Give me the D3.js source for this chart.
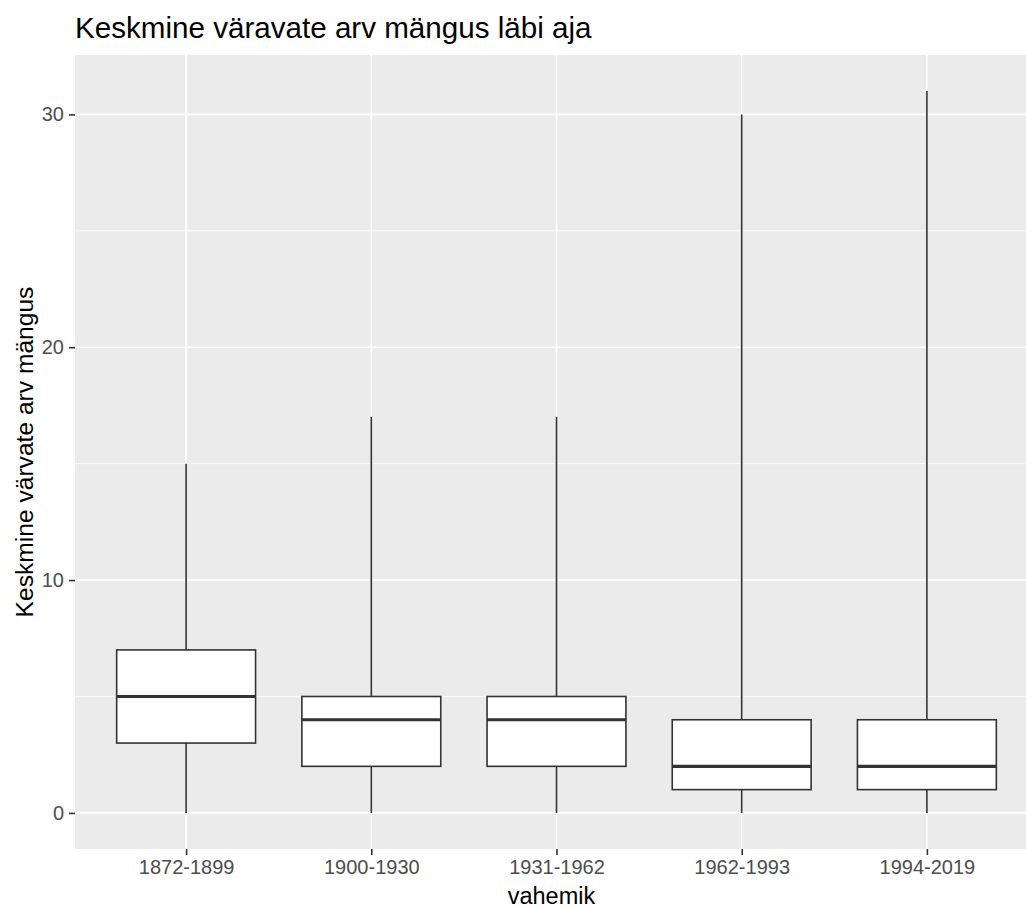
<!DOCTYPE html>
<html>
<head>
<meta charset="utf-8">
<script src="https://cdn.jsdelivr.net/npm/d3@7"></script>
<style>
  body { margin: 0; background: #fff; }
  text { font-family: "Liberation Sans", Arial, sans-serif; }
</style>
</head>
<body>
<svg id="chart" width="1026" height="908"></svg>
<script>
// data
let categories = ["1872-1899", "1900-1930", "1931-1962", "1962-1993", "1994-2019"];
let mins    = [0, 0, 0, 0, 0];
let q1s     = [3, 2, 2, 1, 1];
let medians = [5, 4, 4, 2, 2];
let q3s     = [7, 5, 5, 4, 4];
let maxs    = [15, 17, 17, 30, 31];
let yTicks  = [0, 10, 20, 30];
let yMinor  = [5, 15, 25];

let title  = "Keskmine väravate arv mängus läbi aja";
let xTitle = "vahemik";
let yTitle = "Keskmine värvate arv mängus";

function main() {
    var svg = d3.select("#chart");
    var panel = {left: 75, right: 1038, top: 55, bottom: 849};

    var x = d3.scalePoint()
        .domain(categories)
        .range([panel.left, panel.right])
        .padding(0.6);

    // ggplot-style 5% expansion
    var lo = d3.min(mins), hi = d3.max(maxs), pad = (hi - lo) * 0.05;
    var y = d3.scaleLinear()
        .domain([lo - pad, hi + pad])
        .range([panel.bottom, panel.top]);

    var boxW = x.step() * 0.75;

    svg.append("rect")
        .attr("x", panel.left).attr("y", panel.top)
        .attr("width", panel.right - panel.left)
        .attr("height", panel.bottom - panel.top)
        .attr("fill", "#EBEBEB");

    var grid = svg.append("g");
    grid.selectAll(".minor").data(yMinor).enter().append("line")
        .attr("x1", panel.left).attr("x2", panel.right)
        .attr("y1", d => y(d)).attr("y2", d => y(d))
        .attr("stroke", "#fff").attr("stroke-width", 0.8);
    grid.selectAll(".major").data(yTicks).enter().append("line")
        .attr("x1", panel.left).attr("x2", panel.right)
        .attr("y1", d => y(d)).attr("y2", d => y(d))
        .attr("stroke", "#fff").attr("stroke-width", 1.6);
    grid.selectAll(".vmajor").data(categories).enter().append("line")
        .attr("x1", d => x(d)).attr("x2", d => x(d))
        .attr("y1", panel.top).attr("y2", panel.bottom)
        .attr("stroke", "#fff").attr("stroke-width", 1.6);

    var rows = categories.map((c, i) => ({
        cat: c, min: mins[i], q1: q1s[i], med: medians[i], q3: q3s[i], max: maxs[i]
    }));

    var boxes = svg.selectAll(".box").data(rows).enter().append("g").attr("class", "box");
    boxes.append("line")
        .attr("x1", d => x(d.cat)).attr("x2", d => x(d.cat))
        .attr("y1", d => y(d.q3)).attr("y2", d => y(d.max))
        .attr("stroke", "#333").attr("stroke-width", 1.6);
    boxes.append("line")
        .attr("x1", d => x(d.cat)).attr("x2", d => x(d.cat))
        .attr("y1", d => y(d.q1)).attr("y2", d => y(d.min))
        .attr("stroke", "#333").attr("stroke-width", 1.6);
    boxes.append("rect")
        .attr("x", d => x(d.cat) - boxW / 2)
        .attr("width", boxW)
        .attr("y", d => y(d.q3))
        .attr("height", d => y(d.q1) - y(d.q3))
        .attr("fill", "#fff").attr("stroke", "#333").attr("stroke-width", 1.6);
    boxes.append("line")
        .attr("x1", d => x(d.cat) - boxW / 2).attr("x2", d => x(d.cat) + boxW / 2)
        .attr("y1", d => y(d.med)).attr("y2", d => y(d.med))
        .attr("stroke", "#333").attr("stroke-width", 3.2);

    // axes
    var yAxis = svg.append("g")
        .attr("transform", "translate(" + panel.left + ",0)")
        .call(d3.axisLeft(y).tickValues(yTicks).tickSize(6).tickPadding(5));
    var xAxis = svg.append("g")
        .attr("transform", "translate(0," + panel.bottom + ")")
        .call(d3.axisBottom(x).tickSize(6).tickPadding(5));
    [yAxis, xAxis].forEach(function(a) {
        a.select(".domain").remove();
        a.selectAll(".tick line").attr("stroke", "#333").attr("stroke-width", 1.6);
        a.selectAll(".tick text").attr("fill", "#4D4D4D").style("font-size", "20px")
            .style("font-family", "'Liberation Sans', Arial, sans-serif");
    });

    svg.append("text")
        .attr("x", panel.left).attr("y", 38)
        .style("font-size", "29.6px").attr("fill", "#000")
        .text(title);

    svg.append("text")
        .attr("x", (panel.left + panel.right) / 2 - 5).attr("y", 904)
        .attr("text-anchor", "middle")
        .style("font-size", "23.5px").attr("fill", "#000")
        .text(xTitle);

    svg.append("text")
        .attr("transform", "translate(33," + (panel.top + panel.bottom) / 2 + ") rotate(-90)")
        .attr("text-anchor", "middle")
        .style("font-size", "24.6px").attr("fill", "#000")
        .text(yTitle);
}

main();
</script>
</body>
</html>
